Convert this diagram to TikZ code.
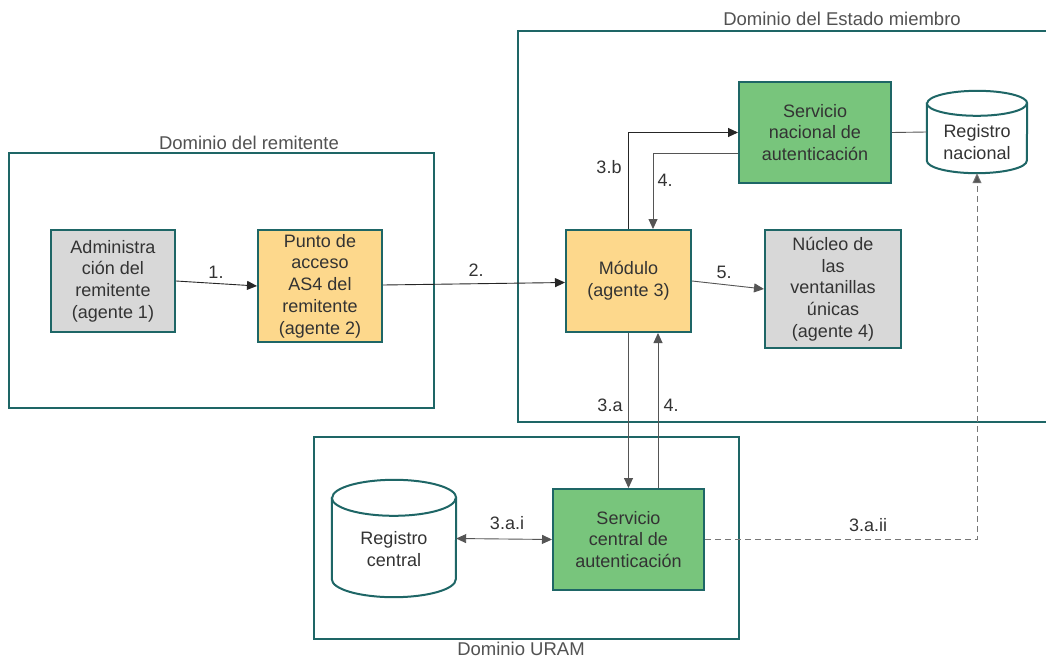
\documentclass[tikz,border=0pt]{standalone}
\usepackage{fontspec}
\setmainfont{Liberation Sans}
\usetikzlibrary{arrows.meta,calc}
\definecolor{teal1}{HTML}{1E6666}
\definecolor{txt}{HTML}{333333}
\definecolor{gbox}{HTML}{D8D8D8}
\definecolor{obox}{HTML}{FDD88C}
\definecolor{grbox}{HTML}{78C57C}
\definecolor{arrg}{HTML}{555555}
\newcommand\drawcyl[3]{%
  \filldraw[cylline] ($(#1.north west)+(0,#3)$) -- ($(#1.south west)+(0,-#3)$)
    arc[start angle=180,end angle=0,x radius=#2,y radius=#3]
    -- ($(#1.north east)+(0,#3)$)
    arc[start angle=0,end angle=-180,x radius=#2,y radius=#3] -- cycle;
  \draw[cylline] ($(#1.north west)+(0,#3)$) arc[start angle=180,end angle=0,x radius=#2,y radius=#3];}
\begin{document}
\begin{tikzpicture}[x=1pt,y=-1pt,
  every node/.style={font=\fontsize{18}{21.7}\selectfont, text=txt},
  box/.style={draw=teal1, line width=2pt, align=center, inner sep=0pt},
  dombox/.style={draw=teal1, line width=2pt},
  cylline/.style={draw=teal1, line width=2pt, fill=white},
  lbl/.style={font=\fontsize{18}{21.7}\selectfont, text=txt},
  dlbl/.style={font=\fontsize{18.5}{21}\selectfont, text=txt!85},
  arrk/.style={draw=black!85, line width=0.9pt, -{Triangle[length=10pt,width=9pt]}},
  arrgr/.style={draw=arrg, line width=0.9pt, -{Triangle[length=10pt,width=9pt,fill=arrg]}},
]
\useasboundingbox (0,0) rectangle (1046,658);
\fill[white] (0,0) rectangle (1046,658);

% domains
\draw[dombox] (9,153) rectangle (434,408);
\node[dlbl] (drem) at (249,143) {Dominio del remitente};
\draw[dombox] (1052,31) -- (517.5,31) -- (517.5,422) -- (1052,422);
\node[dlbl] (dest) at (842,19) {Dominio del Estado miembro};
\draw[dombox] (314,437) rectangle (739,639);
\node[dlbl] (duram) at (521,649) {Dominio URAM};

% boxes
\node[box, fill=gbox, minimum width=124, minimum height=102] (adm) at (113,281)
  {Administra\\ción del\\remitente\\(agente 1)};
\node[box, fill=obox, minimum width=124, minimum height=112] (pto) at (320,286)
  {Punto de\\acceso\\AS4 del\\remitente\\(agente 2)};
\node[box, fill=obox, minimum width=125, minimum height=102] (mod) at (628.5,281)
  {Módulo\\(agente 3)};
\node[box, fill=gbox, minimum width=136, minimum height=118] (nuc) at (833,289)
  {Núcleo de\\las\\ventanillas\\únicas\\(agente 4)};
\node[box, fill=grbox, minimum width=152, minimum height=101] (snac) at (815,132.5)
  {Servicio\\nacional de\\autenticación};
\node[box, fill=grbox, minimum width=151, minimum height=101] (scen) at (628.5,539.5)
  {Servicio\\central de\\autenticación};

% cylinders
\node[minimum width=100, minimum height=82, inner sep=0pt] (rnac) at (977,132) {};
\drawcyl{rnac}{50}{12.5}
\node[align=center] (rnact) at (977,142) {Registro\\nacional};
\node[minimum width=124, minimum height=117, inner sep=0pt] (rcen) at (394,538.5) {};
\drawcyl{rcen}{62}{18}
\node[align=center] (rcent) at (394,549) {Registro\\central};

% connectors
\draw[arrk] (adm.east) -- (pto.west);
\node[lbl] (l1) at (216,272) {1.};
\draw[arrk] ($(pto.east)+(0,-1)$) -- ($(mod.west)+(0,1.5)$);
\node[lbl] (l2) at (476,270) {2.};
\draw[arrgr] (mod.east) -- (nuc.west);
\node[lbl] (l5) at (724,272) {5.};
\draw[arrk] (mod.north) |- (snac.west);
\node[lbl] (l3b) at (609,167) {3.b};
\draw[arrgr] ($(snac.west)+(0,20.5)$) -| ($(mod.north)+(24.5,0)$);
\node[lbl] (l4a) at (665,180) {4.};
\draw[arrgr] (mod.south) -- (scen.north);
\node[lbl] (l3a) at (610,405) {3.a};
\draw[arrgr] ($(scen.north)+(29.5,0)$) -- ($(mod.south)+(29.5,0)$);
\node[lbl] (l4b) at (671,405) {4.};
\draw[draw=arrg, line width=0.9pt, {Triangle[length=10pt,width=9pt,fill=arrg]}-{Triangle[length=10pt,width=9pt,fill=arrg]}] (rcen.east) -- (scen.west);
\node[lbl] (l3ai) at (507,523) {3.a.i};
\draw[draw=arrg!80, line width=0.9pt, dash pattern=on 6pt off 4pt, -{Triangle[length=10pt,width=9pt,fill=arrg]}] (scen.east) -| (rnac.south);
\node[lbl] (l3aii) at (868,525) {3.a.ii};
\draw[draw=arrg, line width=0.9pt] (snac.east) -- (rnac.west);
\end{tikzpicture}
\end{document}
